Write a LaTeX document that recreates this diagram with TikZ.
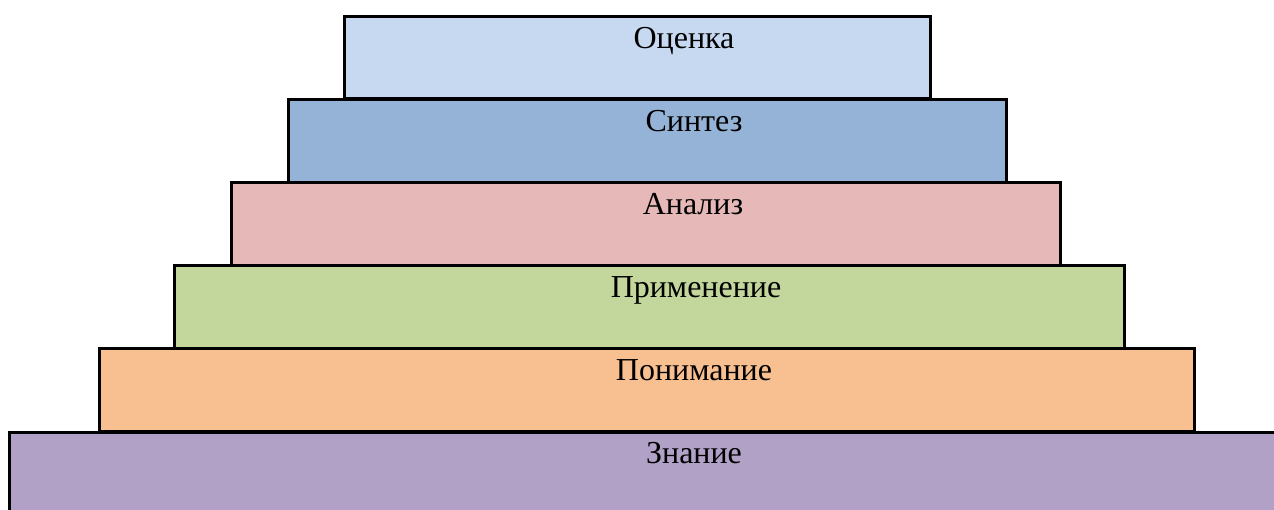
\documentclass[tikz,border=0pt]{standalone}
\usepackage{fontspec}
\setmainfont{Liberation Serif}
\definecolor{evalc}{HTML}{C6D9F1}
\definecolor{synthc}{HTML}{95B3D7}
\definecolor{analc}{HTML}{E6B9B8}
\definecolor{applc}{HTML}{C3D69B}
\definecolor{compc}{HTML}{F8BF90}
\definecolor{knowc}{HTML}{B2A1C7}
\tikzset{
  tier/.style={draw=black, line width=3pt, anchor=north west, inner sep=0pt, outer sep=0pt},
  tiertext/.style={anchor=base, font=\fontsize{32}{36}\selectfont, inner sep=0pt}
}
\begin{document}
\begin{tikzpicture}[x=1pt,y=1pt]
\useasboundingbox (0,0) rectangle (1274,-509);
\clip (0,0) rectangle (1274,-509);
% pyramid tiers, bottom one runs off the page
\node[tier, fill=knowc,  minimum width=1300pt, minimum height=120pt] (t6) at (9,-432) {};
\node[tier, fill=compc,  minimum width=1095pt, minimum height=83pt] (t5) at (99,-348) {};
\node[tier, fill=applc,  minimum width=950pt,  minimum height=83pt] (t4) at (174,-265) {};
\node[tier, fill=analc,  minimum width=829pt,  minimum height=83pt] (t3) at (231,-182) {};
\node[tier, fill=synthc, minimum width=718pt,  minimum height=83pt] (t2) at (288,-99) {};
\node[tier, fill=evalc,  minimum width=586pt,  minimum height=82pt] (t1) at (344,-16) {};
% tier captions
\node[tiertext] (l1) at (684,-48.5) {Оценка};
\node[tiertext] (l2) at (694,-131.5) {Синтез};
\node[tiertext] (l3) at (693,-214.5) {Анализ};
\node[tiertext] (l4) at (696,-297.5) {Применение};
\node[tiertext] (l5) at (694,-380.5) {Понимание};
\node[tiertext] (l6) at (694,-463.5) {Знание};
\end{tikzpicture}
\end{document}
